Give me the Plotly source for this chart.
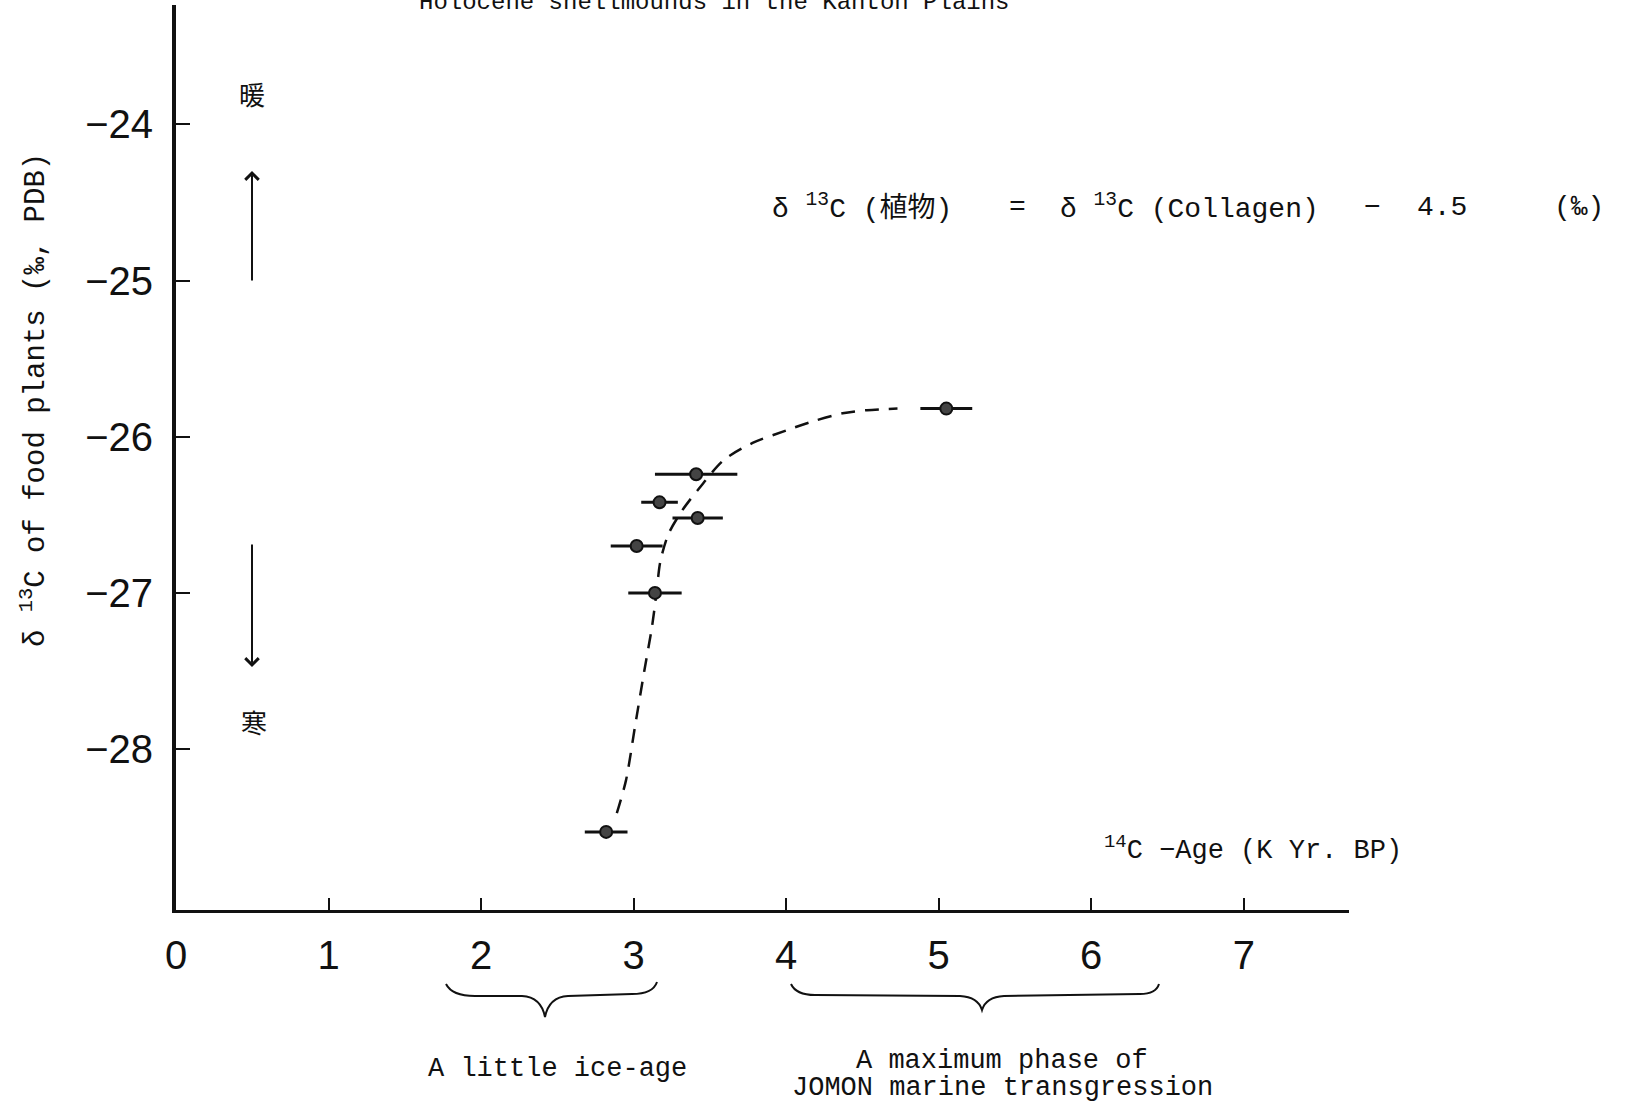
import plotly.graph_objects as go

# ---------------- data ----------------
age_kyr = [2.82, 3.02, 3.14, 3.17, 3.41, 3.42, 5.05]
age_err = [0.14, 0.17, 0.175, 0.12, 0.27, 0.165, 0.17]
d13c_plants = [-28.53, -26.70, -27.00, -26.42, -26.24, -26.52, -25.82]

curve_age = [2.89, 2.95, 3.01, 3.07, 3.12, 3.15, 3.175, 3.23, 3.32, 3.43,
             3.59, 3.78, 4.00, 4.18, 4.37, 4.53, 4.73]
curve_d13c = [-28.41, -28.20, -27.85, -27.50, -27.22, -27.00, -26.80, -26.62,
              -26.47, -26.33, -26.15, -26.04, -25.96, -25.90, -25.85, -25.83, -25.82]

x_tickvals = [0, 1, 2, 3, 4, 5, 6, 7]
x_ticktext = ["0", "1", "2", "3", "4", "5", "6", "7"]
y_tickvals = [-24, -25, -26, -27, -28]
y_ticktext = ["\u221224", "\u221225", "\u221226", "\u221227", "\u221228"]

# ---------------- layout geometry ----------------
W, H = 1627, 1108
L, R, T, B = 176, 278, 5, 198
PW, PH = W - L - R, H - T - B
X_RANGE = [0, 7.69]
Y_RANGE = [-29.03, -23.236]


def px2x(px):
    return X_RANGE[0] + (px - L) / PW * (X_RANGE[1] - X_RANGE[0])


def py2y(py):
    return Y_RANGE[1] - (py - T) / PH * (Y_RANGE[1] - Y_RANGE[0])


def ppx(px):
    return (px - L) / PW


def ppy(py):
    return (H - B - py) / PH


MONO = "Liberation Mono, DejaVu Sans Mono, Noto Sans CJK JP, monospace"
SANS = "Liberation Sans, Arial, sans-serif"
INK = "#111111"

fig = go.Figure()

fig.add_trace(go.Scatter(
    x=curve_age, y=curve_d13c, mode="lines",
    line=dict(color=INK, width=2.5, dash="14px,10px", shape="spline", smoothing=0.8),
    hoverinfo="skip", showlegend=False,
))

fig.add_trace(go.Scatter(
    x=age_kyr, y=d13c_plants, mode="markers",
    error_x=dict(type="data", array=age_err, visible=True, color=INK, thickness=3, width=0),
    marker=dict(size=12, color="#444444", line=dict(color=INK, width=2)),
    showlegend=False,
))

ann = []


def text(px, py, s, size=27, xanchor="center", yanchor="middle", angle=0, family=MONO):
    ann.append(dict(x=ppx(px), y=ppy(py), xref="paper", yref="paper", text=s,
                    showarrow=False, xanchor=xanchor, yanchor=yanchor,
                    textangle=angle, font=dict(family=family, size=size, color=INK)))


# title (cut off at top, as in the original scan)
text(714, 3, "Holocene shellmounds in the Kanton Plains", size=24)

# y-axis title
text(34, 400, "\u03b4 <sup>13</sup>C of food plants (\u2030, PDB)", size=29, angle=-90)

# warm / cold
text(252, 93, "暖", size=26, family="Noto Sans CJK JP")
text(254, 721, "寒", size=26, family="Noto Sans CJK JP")

# arrows
for (x0, y0, x1, y1) in [(252, 282, 252, 171), (252, 543, 252, 667)]:
    ann.append(dict(x=px2x(x1), y=py2y(y1), ax=px2x(x0), ay=py2y(y0),
                    xref="x", yref="y", axref="x", ayref="y", text="",
                    showarrow=True, arrowhead=4, arrowsize=1.3, arrowwidth=2,
                    arrowcolor=INK))

# formula
text(770, 207, "\u03b4 <sup>13</sup>C (植物)", size=28, xanchor="left")
text(1017, 207, "=", size=28)
text(1058, 207, "\u03b4 <sup>13</sup>C (Collagen)", size=28, xanchor="left")
text(1372, 207, "\u2212", size=28)
text(1442, 207, "4.5", size=28)
text(1579, 207, "(\u2030)", size=28)

# x-axis label
text(1102, 848, "<sup>14</sup>C \u2212Age (K Yr. BP)", xanchor="left")

# period labels
text(557, 1069, "A little ice-age")
text(1002, 1061, "A maximum phase of")
text(1002, 1088, "JOMON marine transgression")


# braces
def brace(pts):
    (a, b, c, d, e, f, g, h, i, j, k) = pts

    def P(p):
        return f"{ppx(p[0]):.5f},{ppy(p[1]):.5f}"
    return (f"M {P(a)} Q {P(b)} {P(c)} L {P(d)} Q {P(e)} {P(f)} "
            f"Q {P(g)} {P(h)} L {P(i)} Q {P(j)} {P(k)}")


left_brace = [(446, 984), (452, 996), (475, 996), (522, 996), (541, 997), (545, 1017),
              (549, 997), (568, 996), (632, 994), (653, 994), (657, 982)]
right_brace = [(791, 984), (796, 995), (815, 995), (960, 996), (978, 997), (982, 1010),
               (986, 997), (1004, 996), (1140, 994), (1156, 994), (1159, 984)]
shapes = [dict(type="path", xref="paper", yref="paper", path=brace(b),
               line=dict(color=INK, width=2)) for b in (left_brace, right_brace)]

fig.update_layout(
    width=W, height=H, autosize=False,
    margin=dict(l=L, r=R, t=T, b=B, pad=0),
    paper_bgcolor="white", plot_bgcolor="white",
    annotations=ann, shapes=shapes,
    xaxis=dict(range=X_RANGE, showgrid=False, zeroline=False,
               showline=True, linecolor=INK, linewidth=3,
               ticks="inside", ticklen=12, tickwidth=2, tickcolor=INK,
               tickvals=x_tickvals, ticktext=x_ticktext,
               tickfont=dict(family=SANS, size=40, color=INK),
               ticklabelstandoff=8),
    yaxis=dict(range=Y_RANGE, showgrid=False, zeroline=False,
               showline=True, linecolor=INK, linewidth=4,
               ticks="inside", ticklen=14, tickwidth=2, tickcolor=INK,
               tickvals=y_tickvals, ticktext=y_ticktext,
               tickfont=dict(family=SANS, size=40, color=INK),
               ticklabelstandoff=11),
)

fig.write_html("out.html", config={"displayModeBar": False},
               post_script="document.body.style.margin='0px';")
